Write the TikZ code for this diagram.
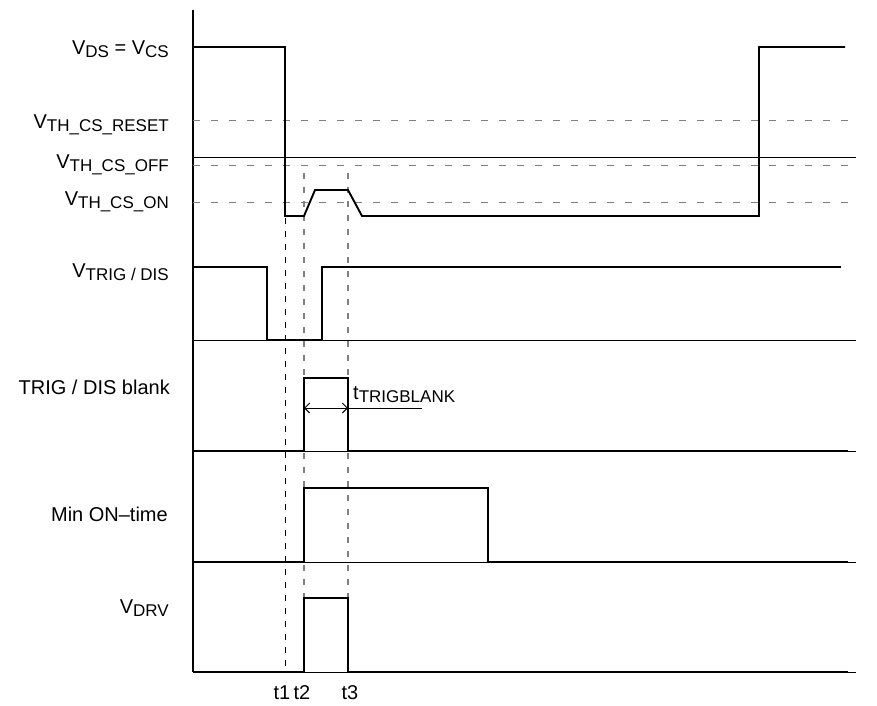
\documentclass[tikz,border=0pt]{standalone}
\usepackage{fontspec}
\setmainfont{Liberation Sans}
\usepackage{tikz}
\usetikzlibrary{arrows.meta}
\definecolor{td@gray}{RGB}{128, 128, 128}
\newcommand{\tdsub}[1]{\raisebox{-3pt}{\fontsize{17}{17}\selectfont #1}}

\begin{document}
\begin{tikzpicture}[x=1pt, y=-1pt,
  sig/.style   = {line width=1.9pt, line join=miter},
  base/.style  = {line width=0.9pt},
  lvl/.style   = {td@gray, line width=0.9pt, dash pattern=on 6.5pt off 11.5pt},
  tmark/.style = {line width=0.8pt, dash pattern=on 6pt off 7pt},
  tgray/.style = {td@gray, line width=1.2pt, dash pattern=on 6pt off 8pt},
  lbl/.style   = {font=\fontsize{20}{20}\selectfont, anchor=base east, inner sep=0pt},
  tlbl/.style  = {font=\fontsize{20}{20}\selectfont, anchor=base, inner sep=0pt},
  span/.style  = {{Straight Barb[length=5pt]}-{Straight Barb[length=5pt]}, line width=0.9pt},
]
  \useasboundingbox (0,0) rectangle (877,705);

  % axis and threshold levels
  \draw[base, line width=1.3pt] (193,10) -- (193,672);
  \draw[lvl] (193,120) -- (853,120);
  \draw[lvl] (193,165) -- (853,165);
  \draw[lvl] (193,202) -- (853,202);
  \draw[base] (193,157) -- (856,157);
  \foreach \y in {340,451,562,672}
    \draw[base] (193,\y) -- (856,\y);

  % time markers
  \draw[tmark] (285,218) -- (285,672);
  \draw[tgray] (304,173) -- (304,672);
  \draw[tgray] (348,173) -- (348,672);

  % waveforms
  \draw[sig] (193,47) -- (285,47) -- (285,216) -- (304,216) -- (315,190) -- (348,190)
             -- (362,216) -- (759,216) -- (759,47) -- (845,47);
  \draw[sig] (193,267) -- (267,267) -- (267,340) -- (322,340) -- (322,267) -- (841,267);
  \draw[sig] (193,451) -- (304,451) -- (304,378) -- (348,378) -- (348,451) -- (848,451);
  \draw[sig] (193,562) -- (304,562) -- (304,488) -- (488,488) -- (488,562) -- (848,562);
  \draw[sig] (193,672) -- (304,672) -- (304,598) -- (348,598) -- (348,672) -- (848,672);

  % blanking time
  \draw[span] (304,408) -- (348,408);
  \draw[base] (348,408) -- (422,408);
  \node[tlbl, anchor=base west] (tblank) at (353,399) {t\tdsub{TRIGBLANK}};

  % signal names
  \node[lbl] (vds)   at (169,54)  {V\tdsub{DS} = V\tdsub{CS}};
  \node[lbl] (vrst)  at (169,128) {V\tdsub{TH\_CS\_RESET}};
  \node[lbl] (voff)  at (169,168) {V\tdsub{TH\_CS\_OFF}};
  \node[lbl] (von)   at (169,205) {V\tdsub{TH\_CS\_ON}};
  \node[lbl] (vtrig) at (169,277) {V\tdsub{TRIG / DIS}};
  \node[lbl] (blank) at (170,394) {TRIG / DIS blank};
  \node[lbl] (mint)  at (168,521) {Min ON\textendash time};
  \node[lbl] (vdrv)  at (169,613) {V\tdsub{DRV}};

  % time labels
  \node[tlbl] (lt1) at (282,699) {t1};
  \node[tlbl] (lt2) at (302,699) {t2};
  \node[tlbl] (lt3) at (350,699) {t3};
\end{tikzpicture}
\end{document}
